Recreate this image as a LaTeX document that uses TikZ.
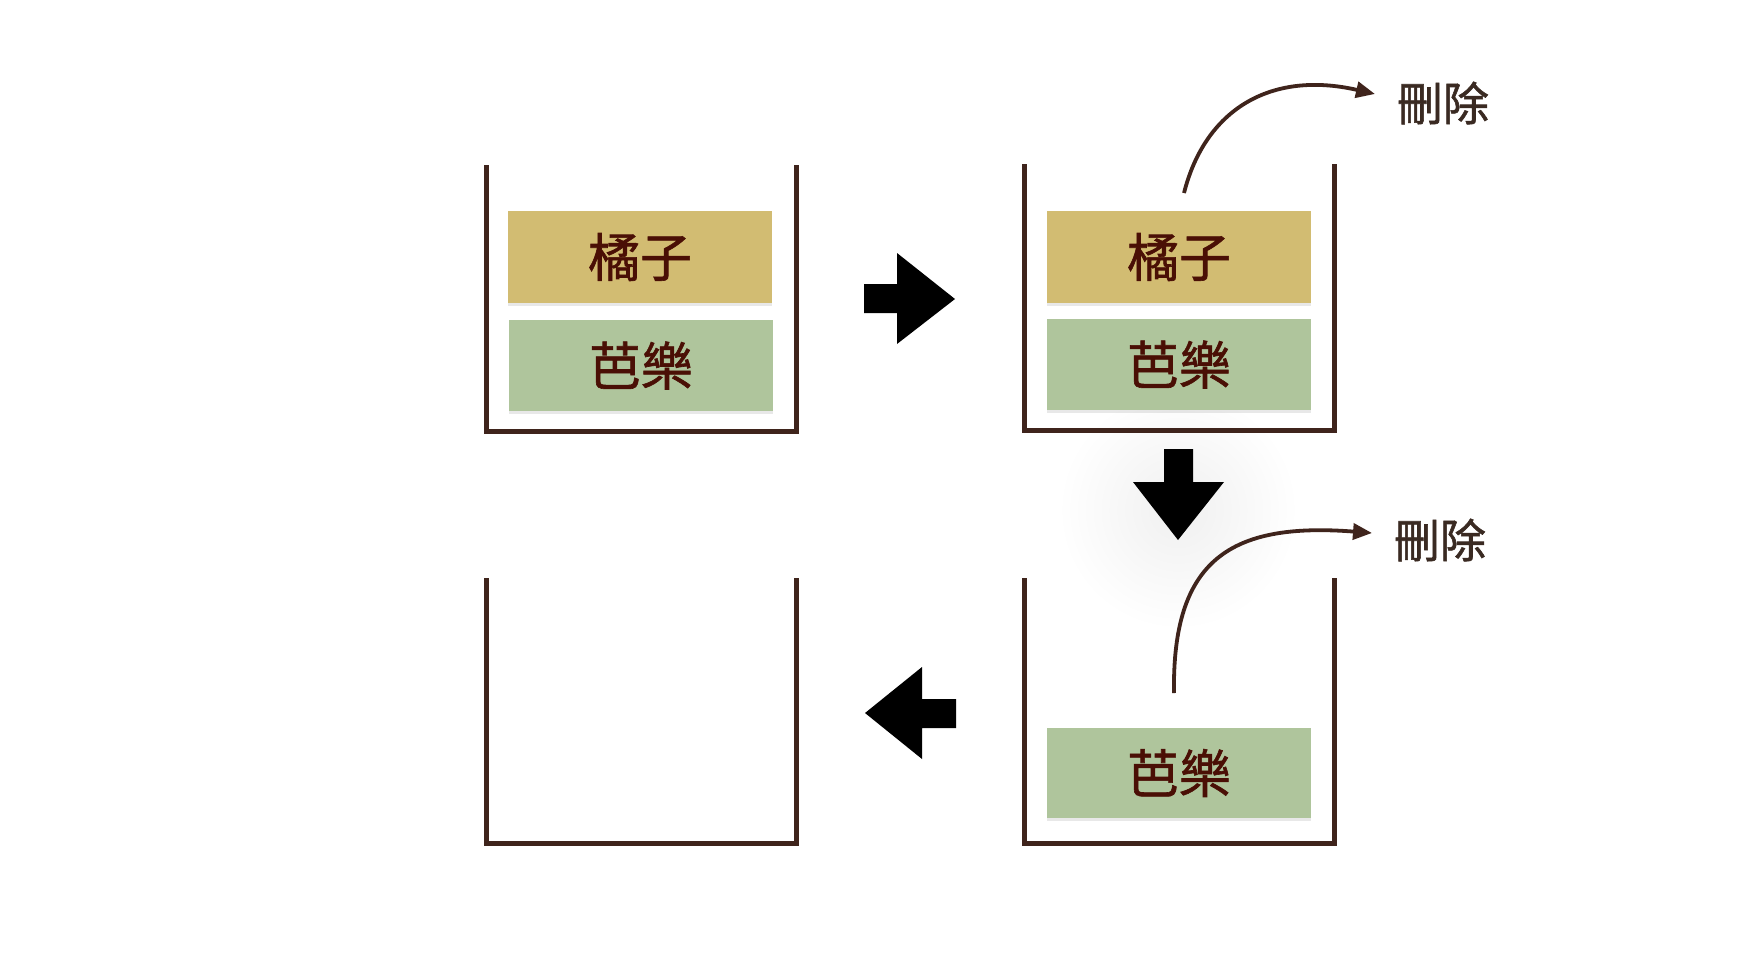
\documentclass[tikz,border=0pt]{standalone}
\usepackage{fontspec}
\newfontfamily\cjk[FakeBold=1.2]{Noto Sans CJK TC}
\usetikzlibrary{arrows.meta,shadows}
\definecolor{orangebox}{HTML}{D2BC72}
\definecolor{greenbox}{HTML}{AFC59C}
\definecolor{boxtext}{HTML}{4A0F05}
\definecolor{wall}{HTML}{3F241C}
\definecolor{lbl}{HTML}{3A2A22}
\tikzset{
  wallline/.style={draw=wall, line width=5pt, line join=miter, line cap=rect},
  item/.style={minimum width=264pt, minimum height=91pt, inner sep=0pt,
    text=boxtext, font=\cjk\fontsize{52}{60}\selectfont,
    drop shadow={opacity=0.18, shadow xshift=0pt, shadow yshift=-3pt}},
  orangeitem/.style={item, fill=orangebox},
  greenitem/.style={item, fill=greenbox},
  dellabel/.style={text=lbl, font=\cjk\fontsize{46}{52}\selectfont, inner sep=0pt},
  curvearrow/.style={draw=wall, line width=3.8pt, -{Triangle[length=19pt,width=16pt]}},
  blockarrow/.style={fill=black, draw=none}
}
\begin{document}
\begin{tikzpicture}[x=1pt,y=-1pt]
\useasboundingbox (0,0) rectangle (1738,970);
\fill[white] (0,0) rectangle (1738,970);
% soft glow behind the down arrow
\shade[inner color=black!6, outer color=white] (1178,510) circle (120);
% containers
\draw[wallline] (486,167) -- (486,431) -- (796,431) -- (796,167);
\draw[wallline] (1024,166) -- (1024,430) -- (1334,430) -- (1334,166);
\draw[wallline] (1024,580) -- (1024,843) -- (1334,843) -- (1334,580);
\draw[wallline] (486,580) -- (486,843) -- (796,843) -- (796,580);
% items
\node[orangeitem, minimum height=92pt] (o1) at (640,257) {橘子};
\node[greenitem] (g1) at (641,365.5) {芭樂};
\node[orangeitem, minimum height=92pt] (o2) at (1179,257) {橘子};
\node[greenitem] (g2) at (1179,364.5) {芭樂};
\node[greenitem, minimum height=90pt] (g3) at (1179,773) {芭樂};
% labels
\node[dellabel] (d1) at (1443,103) {刪除};
\node[dellabel] (d2) at (1440,540) {刪除};
% curved arrows
\coordinate (s1) at (1184,193);
\coordinate (e1) at (1375,94);
\coordinate (s2) at (1174,693);
\coordinate (e2) at (1372,533);
\draw[curvearrow] (s1) .. controls (1205,110) and (1270,70) .. (e1);
\draw[curvearrow] (s2) .. controls (1172,560) and (1230,522) .. (e2);
% block arrows
\fill[blockarrow] (864,284) -- (897,284) -- (897,253) -- (955,299) -- (897,344) -- (897,313) -- (864,313) -- cycle;
\fill[blockarrow] (1164,449) -- (1193,449) -- (1193,482) -- (1224,482) -- (1178,540) -- (1133,482) -- (1164,482) -- cycle;
\fill[blockarrow] (956,699) -- (922,699) -- (922,667) -- (865,713) -- (922,759) -- (922,728) -- (956,728) -- cycle;
\end{tikzpicture}
\end{document}
